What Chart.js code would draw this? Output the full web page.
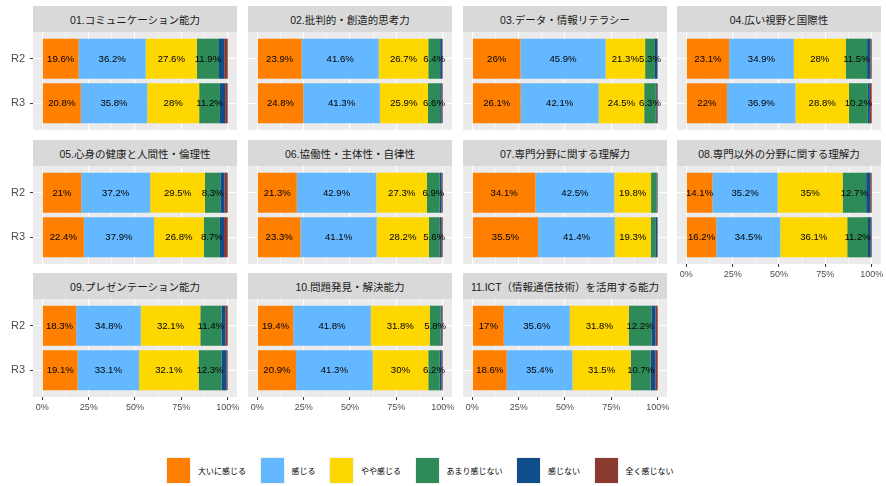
<!DOCTYPE html>
<html><head><meta charset="utf-8">
<script src="https://cdn.jsdelivr.net/npm/chart.js@4.4.0/dist/chart.umd.min.js"></script>
<style>
html,body{margin:0;padding:0;background:#fff;width:886px;height:486px;overflow:hidden;position:relative;font-family:"Liberation Sans","Noto Sans CJK JP",sans-serif;}
.strip{position:absolute;background:#D9D9D9;color:#1A1A1A;font-size:10.5px;display:flex;align-items:center;justify-content:center;white-space:nowrap;}
canvas{position:absolute;}
#legend{position:absolute;left:166px;top:457px;height:27px;display:flex;align-items:center;}
.li{display:flex;align-items:center;margin-right:13.5px;}
.lk{width:25px;height:27px;box-sizing:border-box;border:1px solid #F2F2F2;margin-right:7px;}
.lt{font-size:8px;color:#000;white-space:nowrap;}
</style></head><body>
<div id="legend"></div>
<script>
// ---- data ----
const panelTitles = [
  '01.コミュニケーション能力','02.批判的・創造的思考力','03.データ・情報リテラシー','04.広い視野と国際性',
  '05.心身の健康と人間性・倫理性','06.協働性・主体性・自律性','07.専門分野に関する理解力','08.専門以外の分野に関する理解力',
  '09.プレゼンテーション能力','10.問題発見・解決能力','11.ICT（情報通信技術）を活用する能力'
];
const years = ['R2','R3'];
const levels = ['大いに感じる','感じる','やや感じる','あまり感じない','感じない','全く感じない'];
const levelColors = ['#FF7F00','#63B8FF','#FFD700','#2E8B57','#104E8B','#8B3A2F'];
const xTickValues = [0,25,50,75,100];
const xTickLabels = ['0%','25%','50%','75%','100%'];
const xMinorValues = [12.5,37.5,62.5,87.5];

// values (%) per response level, one per panel (01..11)
const stronglyR2 = [19.6,23.9,26.0,23.1,21.0,21.3,34.1,14.1,18.3,19.4,17.0];
const stronglyR3 = [20.8,24.8,26.1,22.0,22.4,23.3,35.5,16.2,19.1,20.9,18.6];
const feelR2     = [36.2,41.6,45.9,34.9,37.2,42.9,42.5,35.2,34.8,41.8,35.6];
const feelR3     = [35.8,41.3,42.1,36.9,37.9,41.1,41.4,34.5,33.1,41.3,35.4];
const somewhatR2 = [27.6,26.7,21.3,28.0,29.5,27.3,19.8,35.0,32.1,31.8,31.8];
const somewhatR3 = [28.0,25.9,24.5,28.8,26.8,28.2,19.3,36.1,32.1,30.0,31.5];
const littleR2   = [11.9,6.4,5.3,11.5,8.3,6.9,2.9,12.7,11.4,5.8,12.2];
const littleR3   = [11.2,6.6,6.3,10.2,8.7,5.6,2.5,11.2,12.3,6.2,10.7];
const notR2      = [2.8,1.1,1.3,1.8,2.3,1.0,0.4,2.2,2.1,0.7,2.2];
const notR3      = [2.8,0.8,0.5,1.1,2.2,1.0,1.0,1.5,2.7,1.0,2.5];
const notAtAllR2 = [1.9,0.3,0.2,0.7,1.7,0.6,0.3,0.8,1.3,0.5,1.2];
const notAtAllR3 = [1.4,0.6,0.5,1.0,2.0,0.8,0.3,0.5,0.7,0.6,1.3];

const seriesByLevel = [
  [stronglyR2,stronglyR3],[feelR2,feelR3],[somewhatR2,somewhatR3],
  [littleR2,littleR3],[notR2,notR3],[notAtAllR2,notAtAllR3]
];

// ---- layout ----
const FONT = '"Liberation Sans","Noto Sans CJK JP",sans-serif';
const colLeft = [33, 248, 463, 677];
const rowTop = [6, 140, 273];
const stripH = 26, panelW = 204, panelH = 98, yAxisW = 34, xAxisH = 22, padR = 12;

const panelBg = {
  id:'panelBg',
  beforeDraw(chart){
    const {ctx, chartArea:a} = chart;
    ctx.save(); ctx.fillStyle = '#EBEBEB';
    ctx.fillRect(a.left, a.top, a.right - a.left, a.bottom - a.top);
    ctx.restore();
  }
};
const barLabels = {
  id:'barLabels',
  afterDatasetsDraw(chart){
    const ctx = chart.ctx;
    ctx.save();
    ctx.font = '9.6px ' + FONT;
    ctx.fillStyle = '#000000';
    ctx.textAlign = 'center';
    ctx.textBaseline = 'middle';
    chart.data.datasets.forEach((ds, i) => {
      const meta = chart.getDatasetMeta(i);
      meta.data.forEach((el, j) => {
        const v = ds.data[j].x;
        if (v >= 5) ctx.fillText(v + '%', (el.x + el.base) / 2, el.y + 0.5);
      });
    });
    ctx.restore();
  }
};

const gridVals = xTickValues.concat(xMinorValues).sort((a,b)=>a-b);
const isMajor = v => xTickValues.indexOf(v) >= 0;

panelTitles.forEach((title, p) => {
  const col = p % 4, row = Math.floor(p / 4);
  const showX = row === 2 || p === 7;
  const showY = col === 0;

  const strip = document.createElement('div');
  strip.className = 'strip';
  strip.style.left = colLeft[col] + 'px';
  strip.style.top = rowTop[row] + 'px';
  strip.style.width = panelW + 'px';
  strip.style.height = stripH + 'px';
  strip.textContent = title;
  document.body.appendChild(strip);

  const cv = document.createElement('canvas');
  const W = yAxisW + panelW + padR, H = panelH + xAxisH;
  cv.width = W; cv.height = H;
  cv.style.width = W + 'px'; cv.style.height = H + 'px';
  cv.style.left = (colLeft[col] - yAxisW) + 'px';
  cv.style.top = (rowTop[row] + stripH) + 'px';
  document.body.appendChild(cv);

  const datasets = levels.map((name, k) => ({
    label: name,
    data: years.map((yr, j) => ({x: seriesByLevel[k][j][p], y: j + 1})),
    backgroundColor: levelColors[k],
    borderWidth: 0,
    barPercentage: 0.9,
    categoryPercentage: 1
  }));

  new Chart(cv, {
    type: 'bar',
    data: {datasets},
    plugins: [panelBg, barLabels],
    options: {
      indexAxis: 'y',
      responsive: false,
      animation: false,
      devicePixelRatio: 1,
      layout: {padding: {left: 0, right: padR, top: 0, bottom: 0}},
      plugins: {legend: {display: false}, tooltip: {enabled: false}},
      scales: {
        x: {
          type: 'linear', stacked: true, min: -5, max: 105, offset: false,
          afterBuildTicks: s => { s.ticks = gridVals.map(v => ({value: v})); },
          afterFit: s => { s.height = xAxisH; s.paddingLeft = 0; s.paddingRight = 0; },
          border: {display: false},
          grid: {
            offset: false,
            color: '#FFFFFF',
            lineWidth: c => (c.tick && isMajor(c.tick.value)) ? 1.1 : 0.55,
            drawTicks: showX, tickLength: 3, tickWidth: 1,
            tickColor: c => (c.tick && isMajor(c.tick.value)) ? '#333333' : 'rgba(0,0,0,0)'
          },
          ticks: {
            display: showX, autoSkip: false, maxRotation: 0, minRotation: 0, padding: 2,
            color: '#4D4D4D', font: {size: 9, family: FONT},
            callback: v => { const i = xTickValues.indexOf(v); return i >= 0 ? xTickLabels[i] : ''; }
          }
        },
        y: {
          type: 'linear', stacked: true, reverse: true, min: 0.4, max: 2.6, offset: false,
          afterBuildTicks: s => { s.ticks = years.map((_, i) => ({value: i + 1})); },
          afterFit: s => { s.width = yAxisW; s.paddingTop = 0; s.paddingBottom = 0; },
          border: {display: false},
          grid: {offset: false, color: '#FFFFFF', lineWidth: 1.1, drawTicks: showY, tickLength: 3, tickWidth: 1, tickColor: '#333333'},
          ticks: {
            display: showY, padding: 5, color: '#4D4D4D', font: {size: 11, family: FONT},
            callback: v => years[v - 1]
          }
        }
      }
    }
  });
});

// legend
const leg = document.getElementById('legend');
levels.forEach((name, k) => {
  const it = document.createElement('div'); it.className = 'li';
  const key = document.createElement('div'); key.className = 'lk'; key.style.background = levelColors[k];
  const t = document.createElement('div'); t.className = 'lt'; t.textContent = name;
  it.appendChild(key); it.appendChild(t); leg.appendChild(it);
});
</script>
</body></html>
